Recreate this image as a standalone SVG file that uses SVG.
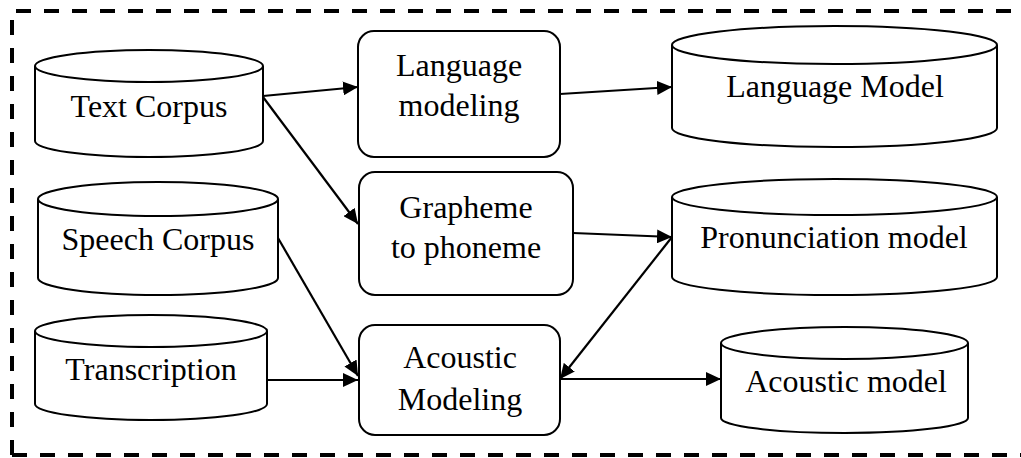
<svg xmlns="http://www.w3.org/2000/svg" width="1021" height="458" viewBox="0 0 1021 458">
<style>
.frame{fill:none;stroke:#000;stroke-width:4;stroke-dasharray:15 13}
.shape{fill:#fff;stroke:#000;stroke-width:2}
.conn{fill:none;stroke:#000;stroke-width:2.2;marker-end:url(#ah)}
.lbl{font-family:'Liberation Serif','Times New Roman',Tinos,'DejaVu Serif',serif;font-size:32px;fill:#000;text-anchor:middle}
</style>
<defs>
<marker id="ah" markerUnits="userSpaceOnUse" markerWidth="16" markerHeight="14" refX="15" refY="7" orient="auto">
<path d="M0,0 L15,7 L0,14 Z" fill="#000"/>
</marker>
</defs>
<rect width="1021" height="458" fill="#fff"/>
<g id="frame">
<path class="frame" d="M12,455 L12,11 L1021,11"/>
<path class="frame" d="M12,455 L1021,455"/>
</g>
<g id="connectors">
<line class="conn" x1="263" y1="96" x2="358" y2="87"/>
<line class="conn" x1="560" y1="94" x2="672" y2="87"/>
<line class="conn" x1="263" y1="97" x2="358" y2="224"/>
<line class="conn" x1="573" y1="233" x2="672" y2="237"/>
<line class="conn" x1="278" y1="238" x2="358" y2="376"/>
<line class="conn" x1="267" y1="380" x2="358" y2="380"/>
<line class="conn" x1="672" y1="237" x2="560" y2="379"/>
<line class="conn" x1="560" y1="379" x2="721" y2="379"/>
</g>
<g font-family="Liberation Serif, Times New Roman, serif" font-size="32">
<g id="text-corpus">
<path class="shape" d="M35,66 L35,141 A114,16 0 0 0 263,141 L263,66"/>
<ellipse class="shape" cx="149" cy="66" rx="114" ry="16"/>
<text class="lbl" x="149" y="117">Text Corpus</text>
</g>
<g id="speech-corpus">
<path class="shape" d="M38,199 L38,278 A120,17 0 0 0 278,278 L278,199"/>
<ellipse class="shape" cx="158" cy="199" rx="120" ry="17"/>
<text class="lbl" x="158" y="250">Speech Corpus</text>
</g>
<g id="transcription">
<path class="shape" d="M35,331 L35,404 A116,16 0 0 0 267,404 L267,331"/>
<ellipse class="shape" cx="151" cy="331" rx="116" ry="16"/>
<text class="lbl" x="151" y="380">Transcription</text>
</g>
<g id="language-modeling">
<rect class="shape" x="358" y="31" width="202" height="126" rx="16"/>
<text class="lbl" x="459" y="76">Language</text>
<text class="lbl" x="459" y="116">modeling</text>
</g>
<g id="grapheme-to-phoneme">
<rect class="shape" x="359" y="172" width="214" height="123" rx="16"/>
<text class="lbl" x="466" y="218">Grapheme</text>
<text class="lbl" x="466" y="258">to phoneme</text>
</g>
<g id="acoustic-modeling">
<rect class="shape" x="359" y="325" width="201" height="110" rx="16"/>
<text class="lbl" x="460" y="368">Acoustic</text>
<text class="lbl" x="460" y="410">Modeling</text>
</g>
<g id="language-model">
<path class="shape" d="M672,45 L672,128 A162.5,19 0 0 0 997,128 L997,45"/>
<ellipse class="shape" cx="834.5" cy="45" rx="162.5" ry="19"/>
<text class="lbl" x="835" y="97">Language Model</text>
</g>
<g id="pronunciation-model">
<path class="shape" d="M672,197 L672,277 A162.5,18 0 0 0 997,277 L997,197"/>
<ellipse class="shape" cx="834.5" cy="197" rx="162.5" ry="18"/>
<text class="lbl" x="834" y="248">Pronunciation model</text>
</g>
<g id="acoustic-model">
<path class="shape" d="M721,343 L721,418 A123.5,15 0 0 0 968,418 L968,343"/>
<ellipse class="shape" cx="844.5" cy="343" rx="123.5" ry="16"/>
<text class="lbl" x="846" y="392">Acoustic model</text>
</g>
</g>
</svg>
